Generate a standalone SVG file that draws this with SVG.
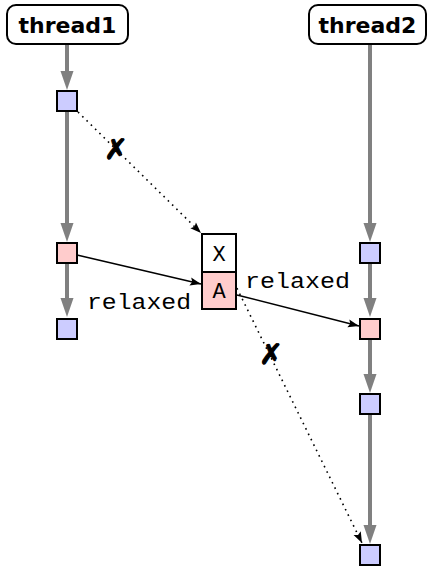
<svg xmlns="http://www.w3.org/2000/svg" width="431" height="566" viewBox="0 0 431 566">
<style>
.thread rect{fill:#fff;stroke:#000;stroke-width:2}
.thread text{font-family:"DejaVu Sans",sans-serif;font-weight:bold;font-size:22px;text-anchor:middle}
.ev{stroke:#000;stroke-width:2}
.blue{fill:#ccccff}
.pink{fill:#ffcccc}
.white{fill:#ffffff}
.tt{font-family:"Liberation Mono","DejaVu Sans Mono",monospace;font-size:22px}
.po{stroke:#808080;stroke-width:4;fill:none;marker-end:url(#ga)}
.rf{stroke:#000;stroke-width:1.5;fill:none;marker-end:url(#ba)}
.dot{stroke:#000;stroke-width:1.6;fill:none;stroke-dasharray:1.6 4.4;marker-end:url(#ba)}
.cross{font-family:"DejaVu Sans",sans-serif;font-size:28px;text-anchor:middle;stroke:#000;stroke-width:1.2}
</style>
<defs>
<marker id="ga" markerUnits="userSpaceOnUse" markerWidth="20" markerHeight="14" refX="10" refY="6.5" orient="auto" overflow="visible">
<path d="M0,0 L19,6.5 L0,13 z" fill="#808080"/>
</marker>
<marker id="ba" markerUnits="userSpaceOnUse" markerWidth="12" markerHeight="9" refX="11" refY="4" orient="auto" overflow="visible">
<path d="M0,0 L11,4 L0,8 L2,4 z" fill="#000"/>
</marker>
</defs>
<g id="connectors">
<path class="po" d="M67,45 V81"/>
<path class="po" d="M67,112 V233"/>
<path class="po" d="M67,264 V308"/>
<path class="po" d="M370,45 V233"/>
<path class="po" d="M370,264 V308"/>
<path class="po" d="M370,340 V384"/>
<path class="po" d="M370,415 V535"/>
<path class="dot" d="M78,112 L201,233"/>
<path class="dot" d="M229,272 L362,543"/>
<path class="rf" d="M77,255 L201,284"/>
<path class="rf" d="M237,295 L359,326"/>
<text class="cross" x="116" y="159">✗</text>
<text class="cross" x="271" y="364">✗</text>
<text class="tt" x="87" y="309" textLength="104" lengthAdjust="spacingAndGlyphs">relaxed</text>
<text class="tt" x="245" y="288" textLength="105" lengthAdjust="spacingAndGlyphs">relaxed</text>
</g>
<g id="thread1" class="thread">
<rect x="7" y="5" width="121" height="39" rx="9"/>
<text x="67.5" y="33">thread1</text>
</g>
<g id="thread2" class="thread">
<rect x="309" y="5" width="117" height="39" rx="9"/>
<text x="367.5" y="33">thread2</text>
</g>
<g id="t1e1"><rect class="ev blue" x="57" y="91" width="20" height="20"/></g>
<g id="t1e2"><rect class="ev pink" x="57" y="243" width="20" height="20"/></g>
<g id="t1e3"><rect class="ev blue" x="57" y="319" width="20" height="20"/></g>
<g id="t2e1"><rect class="ev blue" x="360" y="243" width="20" height="20"/></g>
<g id="t2e2"><rect class="ev pink" x="360" y="319" width="20" height="20"/></g>
<g id="t2e3"><rect class="ev blue" x="360" y="394" width="20" height="20"/></g>
<g id="t2e4"><rect class="ev blue" x="360" y="545" width="20" height="20"/></g>
<g id="memX">
<rect class="ev white" x="202" y="234" width="34" height="38"/>
<text class="tt" x="219" y="261" text-anchor="middle">X</text>
</g>
<g id="memA">
<rect class="ev pink" x="202" y="272" width="34" height="37"/>
<text class="tt" x="219" y="298" text-anchor="middle">A</text>
</g>
</svg>
